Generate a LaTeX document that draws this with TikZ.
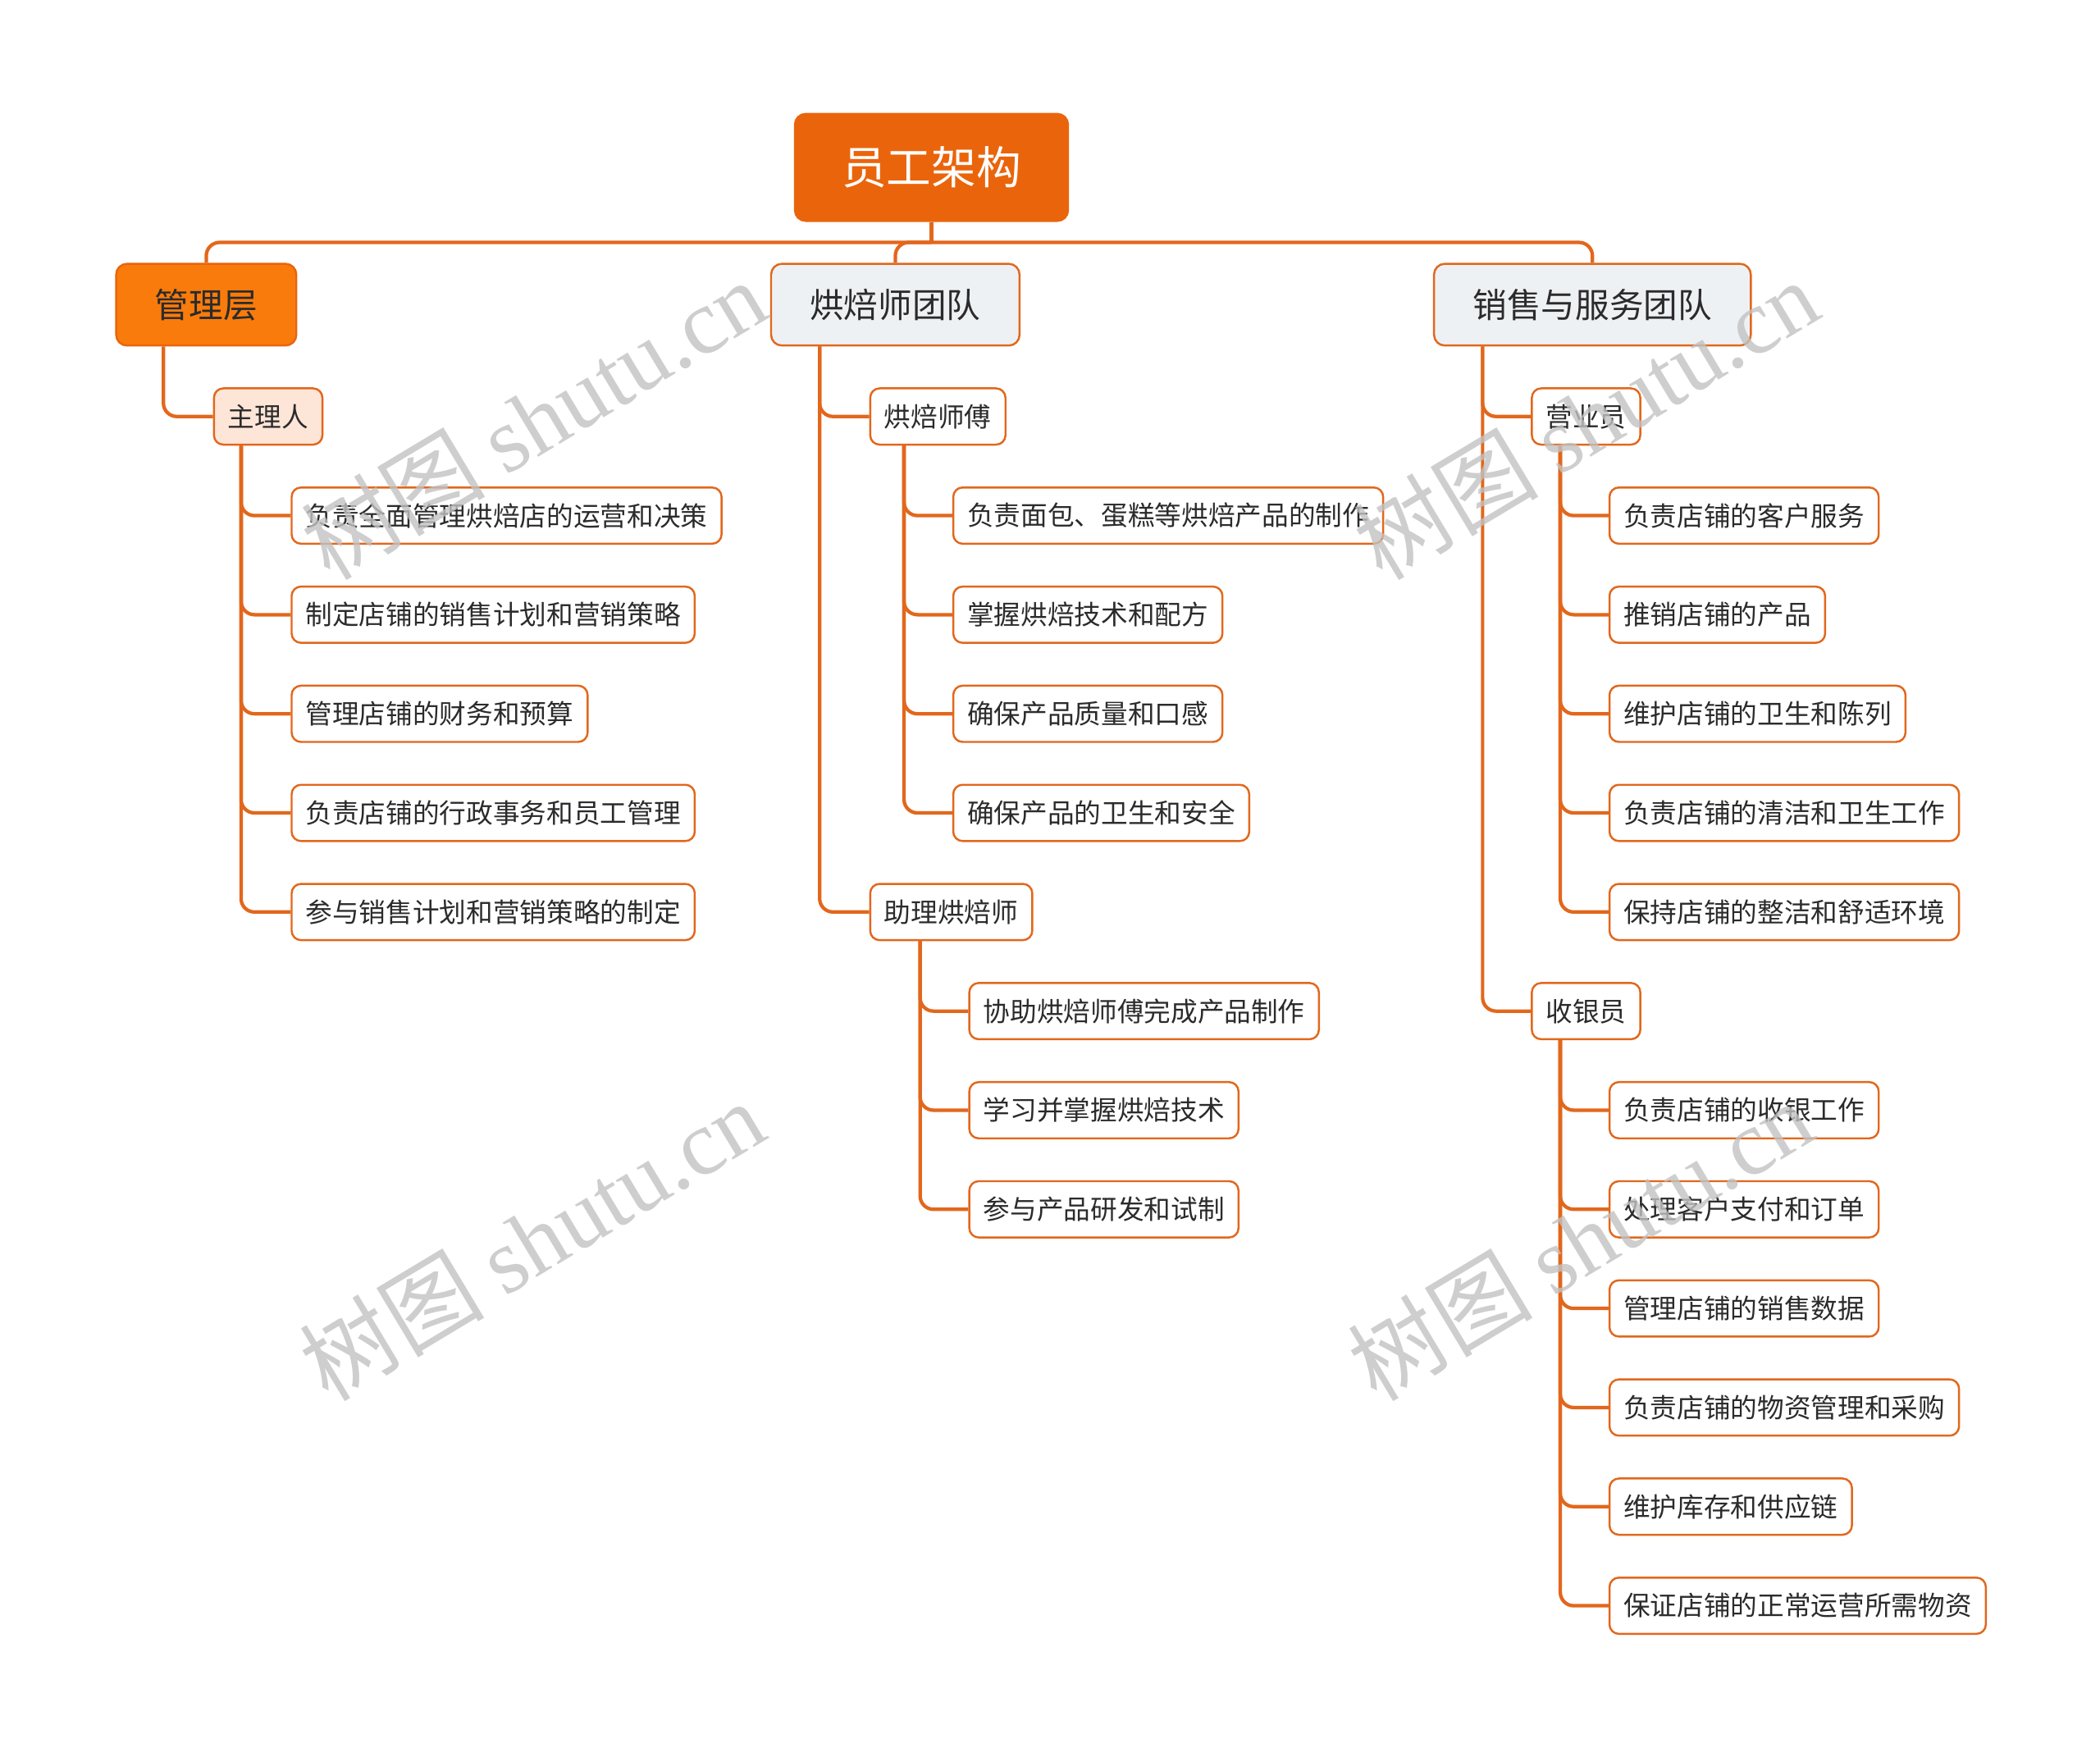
\documentclass[tikz,border=0pt]{standalone}
\usepackage{fontspec}
\newfontfamily\cjk{Noto Sans CJK SC}
\newfontfamily\wmlatin{Liberation Serif}
\definecolor{lineC}{HTML}{E2671C}
\definecolor{rootC}{HTML}{EA640C}
\definecolor{mgmtC}{HTML}{F97B0C}
\definecolor{peachC}{HTML}{FDE6D8}
\definecolor{grayC}{HTML}{EEF1F4}
\definecolor{textC}{HTML}{2B2B2B}
\begin{document}
\begin{tikzpicture}[x=1pt,y=-1pt,
  rootbox/.style={draw=rootC, fill=rootC, line width=1.4pt, rounded corners=8pt, text=white,
    font=\cjk\fontsize{33.5}{33.5}\selectfont, inner xsep=35pt, inner ysep=0pt, minimum height=80pt},
  topbox/.style={draw=lineC, fill=grayC, line width=1.5pt, rounded corners=8pt, text=textC,
    font=\cjk\fontsize{25.5}{25.5}\selectfont, inner xsep=29pt, inner ysep=0pt, minimum height=61pt, anchor=west},
  midbox/.style={draw=lineC, fill=white, line width=1.5pt, rounded corners=7pt, text=textC,
    font=\cjk\fontsize{20}{20}\selectfont, inner xsep=10.5pt, inner ysep=0pt, minimum height=42pt, anchor=west},
  leaf/.style={midbox},
  conn/.style={draw=lineC, line width=2.6pt, rounded corners=10pt},
  wm/.style={text=black!24, opacity=0.8, rotate=31, font=\fontsize{69}{69}\selectfont}
]
\useasboundingbox[fill=white] (0,0) rectangle (1568,1305);

% root and level 1
\node[rootbox] (root) at (695.5,125) {员工架构};
\node[topbox, fill=mgmtC, draw=rootC] (mgmt) at (86,227.5) {管理层};
\node[topbox] (bake) at (575,227.5) {烘焙师团队};
\node[topbox] (sales) at (1070,227.5) {销售与服务团队};

% management
\node[midbox, fill=peachC] (zl) at (159,311) {主理人};
\node[leaf] (m1) at (217,385) {负责全面管理烘焙店的运营和决策};
\node[leaf] (m2) at (217,459) {制定店铺的销售计划和营销策略};
\node[leaf] (m3) at (217,533) {管理店铺的财务和预算};
\node[leaf] (m4) at (217,607) {负责店铺的行政事务和员工管理};
\node[leaf] (m5) at (217,681) {参与销售计划和营销策略的制定};

% bakers
\node[midbox] (bs) at (649,311) {烘焙师傅};
\node[leaf] (b1) at (711,385) {负责面包、蛋糕等烘焙产品的制作};
\node[leaf] (b2) at (711,459) {掌握烘焙技术和配方};
\node[leaf] (b3) at (711,533) {确保产品质量和口感};
\node[leaf] (b4) at (711,607) {确保产品的卫生和安全};
\node[midbox] (zb) at (649,681) {助理烘焙师};
\node[leaf] (z1) at (723,755) {协助烘焙师傅完成产品制作};
\node[leaf] (z2) at (723,829) {学习并掌握烘焙技术};
\node[leaf] (z3) at (723,903) {参与产品研发和试制};

% sales
\node[midbox] (yy) at (1143,311) {营业员};
\node[leaf] (y1) at (1201,385) {负责店铺的客户服务};
\node[leaf] (y2) at (1201,459) {推销店铺的产品};
\node[leaf] (y3) at (1201,533) {维护店铺的卫生和陈列};
\node[leaf] (y4) at (1201,607) {负责店铺的清洁和卫生工作};
\node[leaf] (y5) at (1201,681) {保持店铺的整洁和舒适环境};
\node[midbox] (sy) at (1143,755) {收银员};
\node[leaf] (s1) at (1201,829) {负责店铺的收银工作};
\node[leaf] (s2) at (1201,903) {处理客户支付和订单};
\node[leaf] (s3) at (1201,977) {管理店铺的销售数据};
\node[leaf] (s4) at (1201,1051) {负责店铺的物资管理和采购};
\node[leaf] (s5) at (1201,1125) {维护库存和供应链};
\node[leaf] (s6) at (1201,1199) {保证店铺的正常运营所需物资};

% connectors: root bus
\coordinate (hub) at (695.5,181);
\draw[conn] (root.south) -- (hub);
\draw[conn] (hub) -| (mgmt.north);
\draw[conn] (hub) -| (bake.north);
\draw[conn] (hub) -| (sales.north);

% level 1 -> level 2
\draw[conn] ([xshift=36pt]mgmt.south west) |- (zl.west);
\draw[conn] ([xshift=37pt]bake.south west) |- (bs.west);
\draw[conn] ([xshift=37pt]bake.south west) |- (zb.west);
\draw[conn] ([xshift=37pt]sales.south west) |- (yy.west);
\draw[conn] ([xshift=37pt]sales.south west) |- (sy.west);

% level 2 -> leaves
\foreach \n in {m1,m2,m3,m4,m5} \draw[conn] ([xshift=21pt]zl.south west) |- (\n.west);
\foreach \n in {b1,b2,b3,b4} \draw[conn] ([xshift=26pt]bs.south west) |- (\n.west);
\foreach \n in {z1,z2,z3} \draw[conn] ([xshift=38pt]zb.south west) |- (\n.west);
\foreach \n in {y1,y2,y3,y4,y5} \draw[conn] ([xshift=22pt]yy.south west) |- (\n.west);
\foreach \n in {s1,s2,s3,s4,s5,s6} \draw[conn] ([xshift=22pt]sy.south west) |- (\n.west);

% watermarks
\node[wm] (w1) at (398,313) {\cjk 树图 \wmlatin shutu.cn};
\node[wm] (w2) at (1184,313) {\cjk 树图 \wmlatin shutu.cn};
\node[wm] (w3) at (397,926) {\cjk 树图 \wmlatin shutu.cn};
\node[wm] (w4) at (1180,926) {\cjk 树图 \wmlatin shutu.cn};
\end{tikzpicture}
\end{document}
